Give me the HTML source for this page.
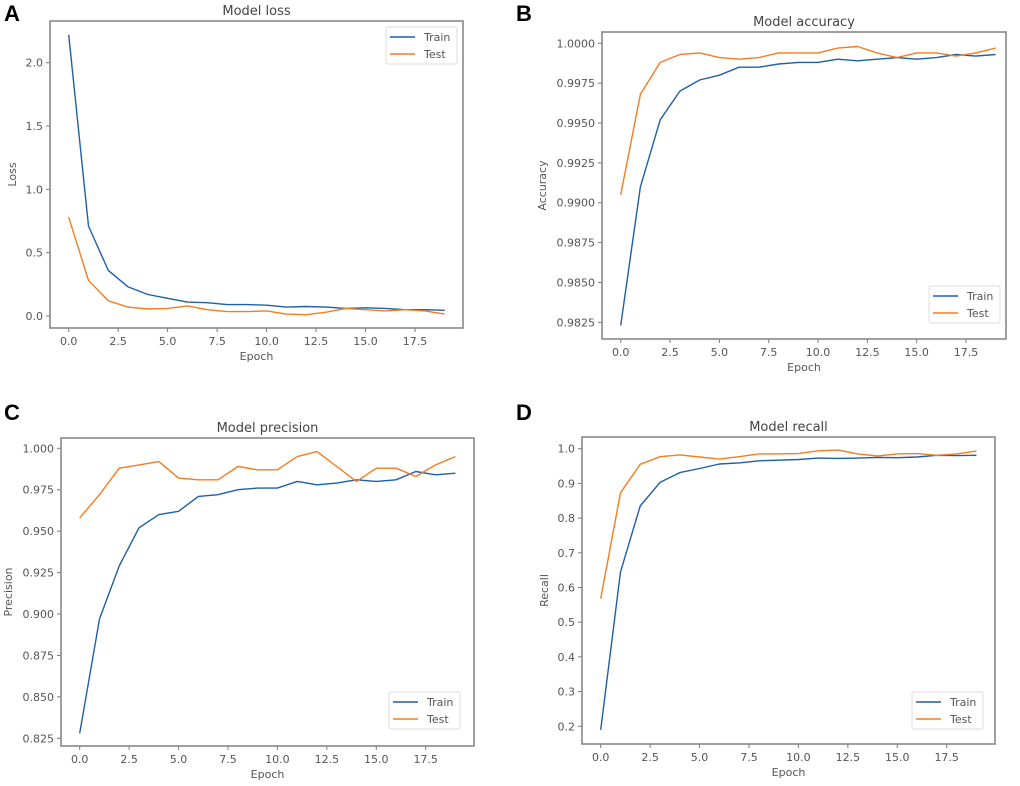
<!DOCTYPE html>
<html><head><meta charset="utf-8"><style>
body{margin:0;background:#fff;}
svg{display:block;font-family:"DejaVu Sans","Liberation Sans",sans-serif;}
</style></head><body>
<svg id="fig" width="1020" height="786" xmlns="http://www.w3.org/2000/svg"></svg>
<script>
const epochs=[0,1,2,3,4,5,6,7,8,9,10,11,12,13,14,15,16,17,18,19];
const xTicks=[0,2.5,5,7.5,10,12.5,15,17.5];
const xTickLabels=["0.0","2.5","5.0","7.5","10.0","12.5","15.0","17.5"];
const lossTrain=[2.22,0.71,0.36,0.23,0.17,0.14,0.11,0.105,0.09,0.09,0.085,0.07,0.075,0.07,0.06,0.065,0.06,0.05,0.05,0.045];
const lossTest=[0.78,0.28,0.12,0.07,0.055,0.06,0.08,0.05,0.035,0.035,0.04,0.015,0.01,0.03,0.06,0.05,0.04,0.05,0.04,0.015];
const lossTicks=[0,0.5,1,1.5,2];
const lossTickLabels=["0.0","0.5","1.0","1.5","2.0"];
const accTrain=[0.9823,0.9910,0.9952,0.9970,0.9977,0.9980,0.9985,0.9985,0.9987,0.9988,0.9988,0.9990,0.9989,0.9990,0.9991,0.9990,0.9991,0.9993,0.9992,0.9993];
const accTest=[0.9905,0.9968,0.9988,0.9993,0.9994,0.9991,0.9990,0.9991,0.9994,0.9994,0.9994,0.9997,0.9998,0.9994,0.9991,0.9994,0.9994,0.9992,0.9994,0.9997];
const accTicks=[0.9825,0.985,0.9875,0.99,0.9925,0.995,0.9975,1.0];
const accTickLabels=["0.9825","0.9850","0.9875","0.9900","0.9925","0.9950","0.9975","1.0000"];
const precTrain=[0.828,0.897,0.929,0.952,0.960,0.962,0.971,0.972,0.975,0.976,0.976,0.980,0.978,0.979,0.981,0.980,0.981,0.986,0.984,0.985];
const precTest=[0.958,0.972,0.988,0.990,0.992,0.982,0.981,0.981,0.989,0.987,0.987,0.995,0.998,0.989,0.980,0.988,0.988,0.983,0.990,0.995];
const precTicks=[0.825,0.85,0.875,0.9,0.925,0.95,0.975,1.0];
const precTickLabels=["0.825","0.850","0.875","0.900","0.925","0.950","0.975","1.000"];
const recTrain=[0.19,0.645,0.835,0.903,0.931,0.943,0.956,0.959,0.965,0.967,0.969,0.973,0.972,0.973,0.975,0.974,0.976,0.981,0.980,0.981];
const recTest=[0.568,0.873,0.955,0.977,0.982,0.976,0.970,0.977,0.985,0.985,0.986,0.994,0.996,0.985,0.979,0.985,0.986,0.981,0.985,0.993];
const recTicks=[0.2,0.3,0.4,0.5,0.6,0.7,0.8,0.9,1.0];
const recTickLabels=["0.2","0.3","0.4","0.5","0.6","0.7","0.8","0.9","1.0"];

const NS="http://www.w3.org/2000/svg";
const svg=document.getElementById('fig');
function mk(tag,attrs,parent,text){const e=document.createElementNS(NS,tag);for(const k in attrs)e.setAttribute(k,attrs[k]);if(text!==undefined)e.textContent=text;(parent||svg).appendChild(e);return e;}

function panel(cfg){
  const g=mk('g',{});
  
  
  const sx=v=>cfg.x0+(v-0)*(cfg.x175-cfg.x0)/17.5;
  const sy=v=>cfg.yA+(v-cfg.vA)*(cfg.yB-cfg.yA)/(cfg.vB-cfg.vA);
  const lab=mk('text',{x:cfg.lx,y:cfg.ly,'font-size':22,'font-weight':'bold',fill:'#000','font-family':'Liberation Sans, sans-serif'},g,cfg.letter);
  
  
  const t=mk('text',{x:(cfg.L+cfg.R)/2,y:cfg.T-6,'font-size':13,fill:'#444','text-anchor':'middle'},g,cfg.title);
  
  
  // ticks
  cfg.yt.forEach((v,i)=>{
    const y=sy(v);
    const tk=mk('line',{x1:cfg.L-4,x2:cfg.L,y1:y,y2:y,stroke:'#777','stroke-width':1},g);
    
    
    const tl=mk('text',{x:cfg.L-7,y:y+4,'font-size':11,fill:'#555','text-anchor':'end'},g,cfg.ytl[i]);
    
    
  });
  xTicks.forEach((v,i)=>{
    const x=sx(v);
    const tk=mk('line',{x1:x,x2:x,y1:cfg.B,y2:cfg.B+4,stroke:'#777','stroke-width':1},g);
    
    
    const tl=mk('text',{x:x,y:cfg.B+17,'font-size':11,fill:'#555','text-anchor':'middle'},g,xTickLabels[i]);
    
    
  });
  const xl=mk('text',{x:(cfg.L+cfg.R)/2,y:cfg.B+32,'font-size':11,fill:'#555','text-anchor':'middle'},g,'Epoch');
  
  
  const yl=mk('text',{x:0,y:0,'font-size':11,fill:'#555','text-anchor':'middle',transform:`translate(${cfg.ylx},${(cfg.T+cfg.B)/2}) rotate(-90)`},g,cfg.ylabel);
  
  
  // series
  const series=[[cfg.train,'#1f5fa8','train-line'],[cfg.test,'#f57c1f','test-line']];
  series.forEach(([d,c,n])=>{
    const p=mk('polyline',{points:d.map((v,i)=>sx(epochs[i]).toFixed(1)+','+sy(v).toFixed(1)).join(' '),fill:'none',stroke:c,'stroke-width':1.4,'stroke-linejoin':'round'},g);
    
    
  });
  const fr=mk('rect',{x:cfg.L,y:cfg.T,width:cfg.R-cfg.L,height:cfg.B-cfg.T,fill:'none',stroke:'#888','stroke-width':1.6},g);
  
  
  // legend
  const lg=mk('g',{},g);
  
  
  mk('rect',{x:cfg.legX,y:cfg.legY,width:71,height:37,rx:2,fill:'#fff',stroke:'#ddd','stroke-width':1},lg);
  [['Train','#1f5fa8'],['Test','#f57c1f']].forEach(([lbl,c],i)=>{
    const yy=cfg.legY+10+i*17;
    const e=mk('g',{},lg);
    
    
    mk('line',{x1:cfg.legX+4,x2:cfg.legX+29,y1:yy,y2:yy,stroke:c,'stroke-width':1.4},e);
    mk('text',{x:cfg.legX+38,y:yy+4,'font-size':11,fill:'#555'},e,lbl);
  });
}

panel({name:'loss-chart',letter:'A',lx:4,ly:21,title:'Model loss',L:50,R:463,T:21,B:328,x0:68.7,x175:415,vA:0,yA:316,vB:2,yB:62.7,yt:lossTicks,ytl:lossTickLabels,ylabel:'Loss',ylx:16,train:lossTrain,test:lossTest,legX:386,legY:27});
panel({name:'accuracy-chart',letter:'B',lx:516,ly:21,title:'Model accuracy',L:602,R:1006,T:32,B:339,x0:620.7,x175:966,vA:1.0,yA:43.3,vB:0.9825,yB:322.3,yt:accTicks,ytl:accTickLabels,ylabel:'Accuracy',ylx:546,train:accTrain,test:accTest,legX:929,legY:286});
panel({name:'precision-chart',letter:'C',lx:4,ly:420,title:'Model precision',L:61,R:474,T:438,B:746,x0:79.7,x175:425.7,vA:1.0,yA:448.3,vB:0.825,yB:738.3,yt:precTicks,ytl:precTickLabels,ylabel:'Precision',ylx:12,train:precTrain,test:precTest,legX:389,legY:692});
panel({name:'recall-chart',letter:'D',lx:516,ly:420,title:'Model recall',L:582,R:995,T:437,B:744,x0:600.7,x175:946.7,vA:1.0,yA:448.7,vB:0.2,yB:726.3,yt:recTicks,ytl:recTickLabels,ylabel:'Recall',ylx:548,train:recTrain,test:recTest,legX:912,legY:692});
</script>
</body></html>
